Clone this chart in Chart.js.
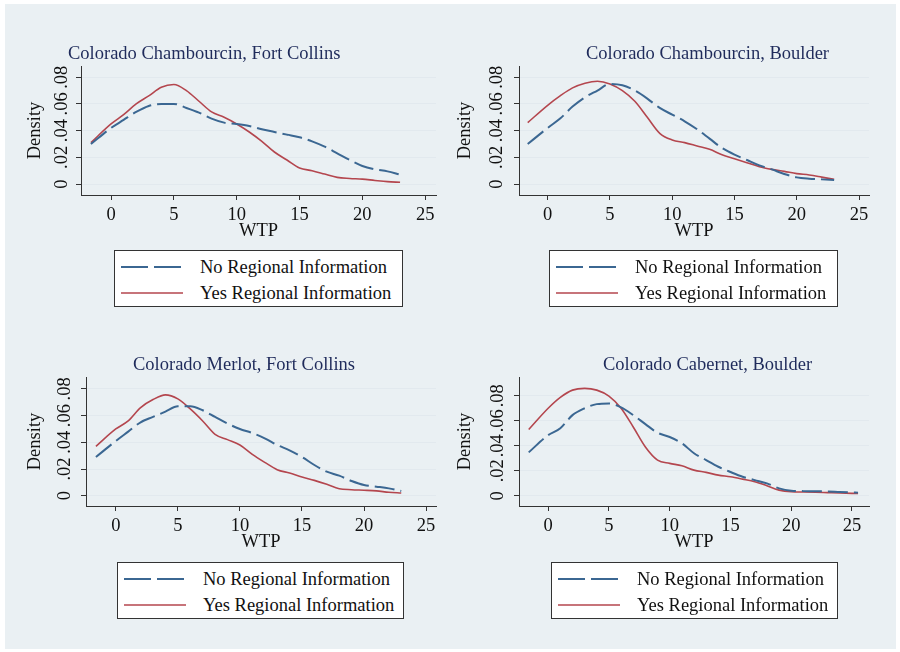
<!DOCTYPE html>
<html>
<head>
<meta charset="utf-8">
<script src="https://cdn.jsdelivr.net/npm/chart.js@4.4.1/dist/chart.umd.min.js"></script>
<style>
  body { margin: 0; background: #fff; width: 900px; height: 652px; position: relative; overflow: hidden;
         font-family: "Liberation Serif", "Times New Roman", serif; }
  #bg { position: absolute; left: 5px; top: 4px; width: 891px; height: 645px; background: #eaf0f3; }
  canvas { position: absolute; }
  .ttl { position: absolute; color: #1f2b5b; font-size: 18.5px; white-space: nowrap; line-height: 20px; }
  .leg { position: absolute; border: 1.5px solid #333; background: #fff; box-sizing: border-box; height: 57px; }
  .leg svg { position: absolute; left: 6px; }
  .leg span { position: absolute; left: 85px; font-size: 18.5px; line-height: 20px; color: #111; white-space: nowrap; }
</style>
</head>
<body>
<div id="bg"></div>
<canvas id="c1" width="450" height="320" style="left:0;top:0"></canvas>
<canvas id="c2" width="450" height="320" style="left:450px;top:0"></canvas>
<canvas id="c3" width="450" height="332" style="left:0;top:320px"></canvas>
<canvas id="c4" width="450" height="332" style="left:450px;top:320px"></canvas>
<script>
const seriesNames = ['No Regional Information', 'Yes Regional Information'];
const panelTitles = ['Colorado Chambourcin, Fort Collins', 'Colorado Chambourcin, Boulder',
                     'Colorado Merlot, Fort Collins', 'Colorado Cabernet, Boulder'];

const wtp = [-1.6, 0, 1, 2, 3, 4, 5, 6, 7, 8, 9, 10, 11, 12, 13, 14, 15, 16, 17, 18, 19, 20, 21, 22, 23];
const wtpCab = [-1.6, 0, 1, 2, 3, 4, 5, 6, 7, 8, 9, 10, 11, 12, 13, 14, 15, 16, 17, 18, 19, 20, 21, 22, 23, 24, 25.5];

const chambFcNo  = [.030, .042, .048, .054, .0585, .060, .060, .057, .0535, .049, .046, .045, .0435, .041, .039, .037, .035, .032, .028, .023, .018, .0135, .011, .0095, .007];
const chambFcYes = [.031, .045, .052, .060, .066, .0725, .0745, .070, .062, .054, .050, .045, .039, .032, .024, .018, .012, .010, .0075, .005, .0042, .0037, .0027, .0018, .0013];

const chambBoNo  = [.030, .042, .049, .058, .065, .070, .075, .074, .070, .064, .057, .052, .047, .041, .034, .027, .022, .018, .014, .011, .0075, .005, .004, .0035, .003];
const chambBoYes = [.046, .059, .066, .072, .0755, .077, .075, .070, .062, .050, .038, .033, .031, .0285, .026, .022, .019, .016, .013, .011, .0095, .0078, .0068, .0052, .0035];

const merlotFcNo  = [.029, .041, .048, .055, .059, .063, .067, .067, .064, .059, .054, .050, .047, .043, .038, .034, .029, .023, .018, .015, .011, .008, .0068, .0055, .0035];
const merlotFcYes = [.037, .050, .056, .066, .072, .0755, .0725, .065, .056, .046, .042, .038, .031, .025, .0195, .017, .014, .0115, .0085, .0052, .0045, .0041, .0036, .0026, .002];

const cabBoNo  = [.0347, .0485, .054, .0645, .070, .0733, .0739, .0707, .0645, .0573, .0504, .047, .042, .034, .0285, .0232, .019, .0152, .0125, .0099, .0059, .004, .0037, .0036, .0034, .003, .0025];
const cabBoYes = [.053, .070, .0787, .0845, .0859, .0845, .0797, .070, .055, .039, .0285, .0259, .024, .0205, .0187, .0165, .0152, .0133, .0112, .008, .0045, .0032, .003, .0028, .0025, .0022, .0018];

const xTicks = [0, 5, 10, 15, 20, 25];
const yTicks = [0, .02, .04, .06, .08];
const yTickLabels = ['0', '.02', '.04', '.06', '.08'];

const BLUE = '#3b6792';
const RED = '#b4464e';
const FONT = { family: '"Liberation Serif", "Times New Roman", serif', size: 18.5 };

function makePanel(id, xs, noVals, yesVals, p) {
  new Chart(document.getElementById(id), {
    type: 'line',
    data: {
      datasets: [
        { label: seriesNames[0], data: xs.map((x, i) => ({ x: x, y: noVals[i] })), borderColor: BLUE,
          borderWidth: 2, borderDash: [20, 6], pointRadius: 0, cubicInterpolationMode: 'monotone', fill: false },
        { label: seriesNames[1], data: xs.map((x, i) => ({ x: x, y: yesVals[i] })), borderColor: RED,
          borderWidth: 1.6, pointRadius: 0, cubicInterpolationMode: 'monotone', fill: false }
      ]
    },
    options: {
      responsive: false,
      animation: false,
      events: [],
      layout: { padding: { left: p.pl, top: p.pt, right: p.pr, bottom: p.pb } },
      plugins: { legend: { display: false }, tooltip: { enabled: false } },
      scales: {
        x: {
          type: 'linear', min: p.xmin, max: p.xmax,
          afterBuildTicks: s => { s.ticks = xTicks.map(v => ({ value: v })); },
          afterFit: s => { s.height = 50; },
          ticks: { font: FONT, color: '#111', padding: 4, autoSkip: false, maxRotation: 0 },
          grid: { drawOnChartArea: false, tickLength: 5, tickColor: '#333', color: '#333' },
          border: { color: '#333', width: 1 },
          title: { display: true, text: 'WTP', font: FONT, color: '#111', padding: { top: 0, bottom: 3 } }
        },
        y: {
          type: 'linear', min: p.ymin, max: p.ymax,
          afterBuildTicks: s => { s.ticks = yTicks.map(v => ({ value: v })); },
          afterFit: s => { s.width = p.wy; },
          ticks: { font: FONT, color: '#111', padding: p.typ, autoSkip: false, minRotation: 90, maxRotation: 90,
                   crossAlign: 'center', callback: (v, i) => yTickLabels[i] },
          grid: { color: '#e2e9ee', lineWidth: 1, tickLength: 5, tickColor: '#333' },
          border: { color: '#333', width: 1 },
          title: { display: true, text: 'Density', font: FONT, color: '#111', padding: { top: 1, bottom: 0 } }
        }
      }
    }
  });
}

// chart areas: c1 81..436 x 66..195, c2 69..419 x 66..195, c3 86..436 x 57..186, c4 69..419 x 57..186
makePanel('c1', wtp, chambFcNo, chambFcYes,
  { pl: 23, wy: 58, pt: 66, pr: 14, pb: 75, typ: 2.4, xmin: -2.39, xmax: 25.86, ymin: -0.0082, ymax: 0.0884 });
makePanel('c2', wtp, chambBoNo, chambBoYes,
  { pl: 3, wy: 66, pt: 66, pr: 31, pb: 75, typ: 5.4, xmin: -2.3, xmax: 25.8, ymin: -0.0082, ymax: 0.0884 });
makePanel('c3', wtp, merlotFcNo, merlotFcYes,
  { pl: 23, wy: 63, pt: 57, pr: 14, pb: 96, typ: 4.4, xmin: -2.4, xmax: 25.8, ymin: -0.0077, ymax: 0.0889 });
makePanel('c4', wtpCab, cabBoNo, cabBoYes,
  { pl: 3, wy: 66, pt: 57, pr: 31, pb: 96, typ: 4.4, xmin: -2.4, xmax: 26.4, ymin: -0.0082, ymax: 0.095 });

// titles and legends
const titlePos = [[68, 43], [586, 43], [133, 354], [603, 354]];
const legendPos = [[114, 250, 289], [549, 250, 289], [117, 562, 287], [551, 562, 287]];
titlePos.forEach((tp, k) => {
  const d = document.createElement('div');
  d.className = 'ttl';
  d.style.left = tp[0] + 'px';
  d.style.top = tp[1] + 'px';
  d.textContent = panelTitles[k];
  document.body.appendChild(d);
});
legendPos.forEach(lp => {
  const box = document.createElement('div');
  box.className = 'leg';
  box.style.left = lp[0] + 'px';
  box.style.top = lp[1] + 'px';
  box.style.width = lp[2] + 'px';
  const styles = [{ c: BLUE, dash: '27 6' }, { c: RED, dash: '' }];
  seriesNames.forEach((name, i) => {
    const cy = 16 + i * 26;
    const svg = document.createElementNS('http://www.w3.org/2000/svg', 'svg');
    svg.setAttribute('width', '64'); svg.setAttribute('height', '6');
    svg.style.top = (cy - 3) + 'px';
    const ln = document.createElementNS('http://www.w3.org/2000/svg', 'line');
    ln.setAttribute('x1', '0'); ln.setAttribute('x2', '62'); ln.setAttribute('y1', '3'); ln.setAttribute('y2', '3');
    ln.setAttribute('stroke', styles[i].c); ln.setAttribute('stroke-width', i === 0 ? '2' : '1.7');
    if (styles[i].dash) ln.setAttribute('stroke-dasharray', styles[i].dash);
    svg.appendChild(ln);
    box.appendChild(svg);
    const t = document.createElement('span');
    t.style.top = (cy - 10) + 'px';
    t.textContent = name;
    box.appendChild(t);
  });
  document.body.appendChild(box);
});
</script>
</body>
</html>
